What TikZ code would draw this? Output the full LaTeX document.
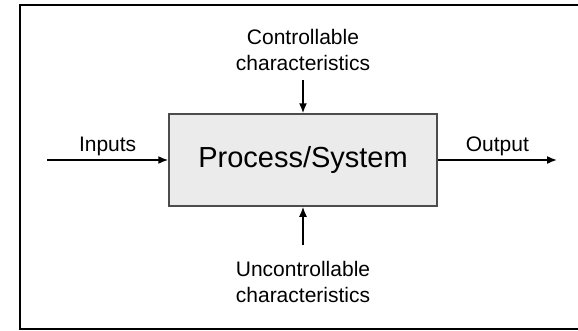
\documentclass[tikz,border=0pt]{standalone}
\usepackage{fontspec}
\setmainfont{Liberation Sans}
\usepackage{tikz}
\usetikzlibrary{arrows.meta, positioning}

\begin{document}
\begin{tikzpicture}[x=1pt, y=-1pt,
    every node/.append style={font=\fontsize{21}{26}\selectfont},
    box/.style={draw=black!70, line width=1.5pt, fill=black!8, minimum width=268pt, minimum height=92pt, align=center, font=\fontsize{29}{34}\selectfont},
    lbl/.style={align=center, inner sep=0pt},
    arr/.style={-{Latex[length=10pt, width=8pt]}, line width=1.6pt},
    frame/.style={draw, line width=2pt},
]

\useasboundingbox (0,0) rectangle (578,330);
\draw[frame] (20,5) rectangle (582,329);

\node[box] (proc) at (303,160) {Process/System};

\coordinate (inStart) at (47,160);
\coordinate (outEnd) at (557,160);
\coordinate (ctrlStart) at (303,80);
\coordinate (unctrlStart) at (303,245);

\node[lbl] (ctrl) at (303,50) {Controllable\\characteristics};
\node[lbl] (unctrl) at (303,282) {Uncontrollable\\characteristics};

\draw[arr] (inStart) -- node[above, inner sep=3pt] {Inputs} (proc.west);
\draw[arr] (proc.east) -- node[above, inner sep=3pt] {Output} (outEnd);
\draw[arr] (ctrlStart) -- (proc.north);
\draw[arr] (unctrlStart) -- (proc.south);

\end{tikzpicture}
\end{document}
